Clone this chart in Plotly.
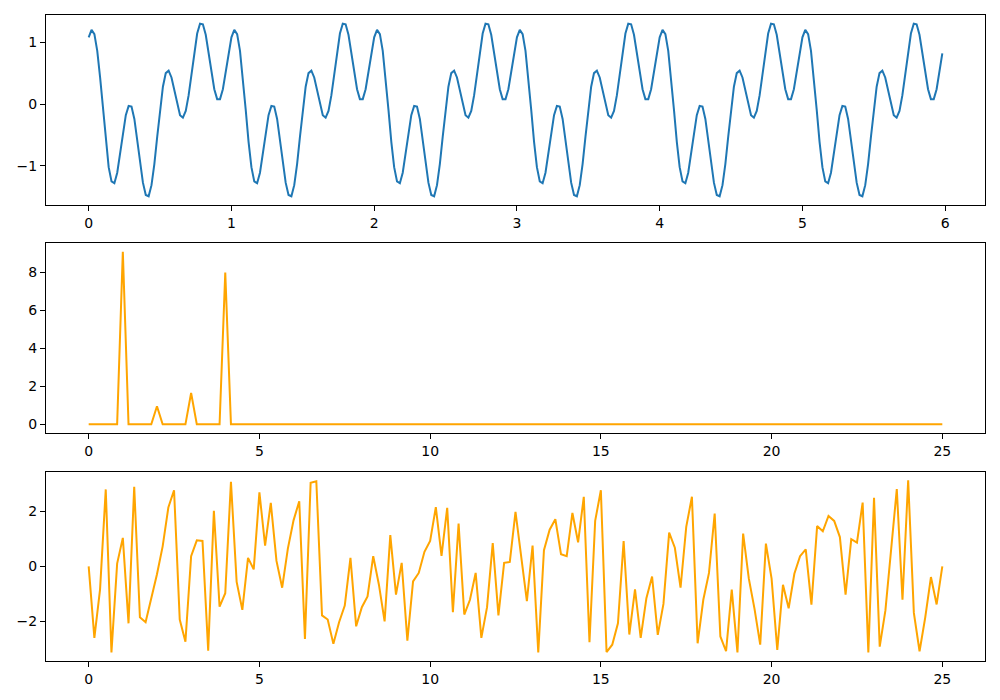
import numpy as np
import plotly.graph_objects as go
from plotly.subplots import make_subplots

# sample times (50 Hz, 6 s) and rfft frequency bins
time = np.arange(300) * 0.02
freqs = np.arange(151) / 6.0

# time-domain signal
signal = [
    1.08, 1.20, 1.13, 0.86, 0.43, -0.09, -0.61, -1.02, -1.25, -1.28,
    -1.11, -0.82, -0.47, -0.18, -0.03, -0.04, -0.24, -0.56, -0.94, -1.27,
    -1.47, -1.49, -1.31, -0.97, -0.53, -0.08, 0.28, 0.50, 0.54, 0.43,
    0.22, -0.01, -0.18, -0.22, -0.11, 0.14, 0.48, 0.84, 1.14, 1.30,
    1.29, 1.12, 0.83, 0.51, 0.24, 0.08, 0.08, 0.24, 0.51, 0.82,
    1.08, 1.20, 1.13, 0.86, 0.43, -0.09, -0.61, -1.02, -1.25, -1.28,
    -1.11, -0.82, -0.47, -0.18, -0.03, -0.04, -0.24, -0.56, -0.94, -1.27,
    -1.47, -1.49, -1.31, -0.97, -0.53, -0.08, 0.28, 0.50, 0.54, 0.43,
    0.22, -0.01, -0.18, -0.22, -0.11, 0.14, 0.48, 0.84, 1.14, 1.30,
    1.29, 1.12, 0.83, 0.51, 0.24, 0.08, 0.08, 0.24, 0.51, 0.82,
    1.08, 1.20, 1.13, 0.86, 0.43, -0.09, -0.61, -1.02, -1.25, -1.28,
    -1.11, -0.82, -0.47, -0.18, -0.03, -0.04, -0.24, -0.56, -0.94, -1.27,
    -1.47, -1.49, -1.31, -0.97, -0.53, -0.08, 0.28, 0.50, 0.54, 0.43,
    0.22, -0.01, -0.18, -0.22, -0.11, 0.14, 0.48, 0.84, 1.14, 1.30,
    1.29, 1.12, 0.83, 0.51, 0.24, 0.08, 0.08, 0.24, 0.51, 0.82,
    1.08, 1.20, 1.13, 0.86, 0.43, -0.09, -0.61, -1.02, -1.25, -1.28,
    -1.11, -0.82, -0.47, -0.18, -0.03, -0.04, -0.24, -0.56, -0.94, -1.27,
    -1.47, -1.49, -1.31, -0.97, -0.53, -0.08, 0.28, 0.50, 0.54, 0.43,
    0.22, -0.01, -0.18, -0.22, -0.11, 0.14, 0.48, 0.84, 1.14, 1.30,
    1.29, 1.12, 0.83, 0.51, 0.24, 0.08, 0.08, 0.24, 0.51, 0.82,
    1.08, 1.20, 1.13, 0.86, 0.43, -0.09, -0.61, -1.02, -1.25, -1.28,
    -1.11, -0.82, -0.47, -0.18, -0.03, -0.04, -0.24, -0.56, -0.94, -1.27,
    -1.47, -1.49, -1.31, -0.97, -0.53, -0.08, 0.28, 0.50, 0.54, 0.43,
    0.22, -0.01, -0.18, -0.22, -0.11, 0.14, 0.48, 0.84, 1.14, 1.30,
    1.29, 1.12, 0.83, 0.51, 0.24, 0.08, 0.08, 0.24, 0.51, 0.82,
    1.08, 1.20, 1.13, 0.86, 0.43, -0.09, -0.61, -1.02, -1.25, -1.28,
    -1.11, -0.82, -0.47, -0.18, -0.03, -0.04, -0.24, -0.56, -0.94, -1.27,
    -1.47, -1.49, -1.31, -0.97, -0.53, -0.08, 0.28, 0.50, 0.54, 0.43,
    0.22, -0.01, -0.18, -0.22, -0.11, 0.14, 0.48, 0.84, 1.14, 1.30,
    1.29, 1.12, 0.83, 0.51, 0.24, 0.08, 0.08, 0.24, 0.51, 0.82,
]

# spectrum magnitude (middle panel)
magnitude = [
    0, 0, 0, 0, 0, 0, 9.1, 0, 0, 0,
    0, 0, 0.95, 0, 0, 0, 0, 0, 1.65, 0,
    0, 0, 0, 0, 8.0, 0, 0, 0, 0, 0,
    0, 0, 0, 0, 0, 0, 0, 0, 0, 0,
    0, 0, 0, 0, 0, 0, 0, 0, 0, 0,
    0, 0, 0, 0, 0, 0, 0, 0, 0, 0,
    0, 0, 0, 0, 0, 0, 0, 0, 0, 0,
    0, 0, 0, 0, 0, 0, 0, 0, 0, 0,
    0, 0, 0, 0, 0, 0, 0, 0, 0, 0,
    0, 0, 0, 0, 0, 0, 0, 0, 0, 0,
    0, 0, 0, 0, 0, 0, 0, 0, 0, 0,
    0, 0, 0, 0, 0, 0, 0, 0, 0, 0,
    0, 0, 0, 0, 0, 0, 0, 0, 0, 0,
    0, 0, 0, 0, 0, 0, 0, 0, 0, 0,
    0, 0, 0, 0, 0, 0, 0, 0, 0, 0,
    0,
]

# spectrum phase (bottom panel)
phase = [
    0.0, -2.61, -0.84, 2.81, -3.14, 0.10, 1.04, -2.08, 2.91, -1.86,
    -2.04, -1.16, -0.29, 0.73, 2.15, 2.78, -1.94, -2.75, 0.37, 0.95,
    0.93, -3.08, 2.03, -1.47, -0.98, 3.09, -0.57, -1.59, 0.31, -0.11,
    2.70, 0.76, 2.32, 0.20, -0.78, 0.65, 1.68, 2.38, -2.65, 3.05,
    3.11, -1.79, -1.94, -2.83, -2.04, -1.43, 0.31, -2.19, -1.49, -1.10,
    0.37, -0.67, -2.01, 1.14, -1.03, 0.13, -2.71, -0.55, -0.24, 0.53,
    0.93, 2.16, 0.38, 2.14, -1.67, 1.56, -1.76, -1.22, -0.24, -2.61,
    -1.49, 0.85, -1.79, 0.13, 0.16, 1.99, 0.32, -1.27, 0.76, -3.14,
    0.59, 1.34, 1.72, 0.44, 0.37, 1.95, 0.88, 2.54, -2.77, 1.66,
    2.78, -3.13, -2.86, -2.08, 0.92, -2.49, -0.84, -2.61, -1.16, -0.37,
    -2.50, -1.37, 1.23, 0.68, -0.78, 1.44, 2.54, -2.81, -1.22, -0.24,
    1.93, -2.56, -3.10, -0.85, -3.14, 1.20, -0.45, -1.55, -2.86, 0.83,
    -0.45, -3.05, -0.67, -1.53, -0.27, 0.37, 0.62, -1.40, 1.47, 1.28,
    1.84, 1.66, 1.07, -1.03, 0.99, 0.87, 2.33, -3.14, 2.50, -2.93,
    -1.61, 0.65, 2.82, -1.22, 3.14, -1.70, -3.10, -1.86, -0.39, -1.39,
    0.0,
]

fig = make_subplots(rows=3, cols=1, vertical_spacing=0.06)

fig.add_trace(go.Scatter(x=time, y=signal, mode="lines",
                         line=dict(color="#1f77b4", width=2)), row=1, col=1)
fig.add_trace(go.Scatter(x=freqs, y=magnitude, mode="lines",
                         line=dict(color="orange", width=2)), row=2, col=1)
fig.add_trace(go.Scatter(x=freqs, y=phase, mode="lines",
                         line=dict(color="orange", width=2)), row=3, col=1)

axis_style = dict(showline=True, linecolor="black", linewidth=1, mirror=True,
                  ticks="outside", ticklen=5, tickwidth=1, tickcolor="black",
                  showgrid=False, zeroline=False, automargin=False,
                  tickfont=dict(family="DejaVu Sans", size=14, color="black"))

fig.update_xaxes(**axis_style)
fig.update_yaxes(**axis_style)

# page body adds an 8px offset, so margins are shifted to compensate
fig.update_layout(
    width=1000, height=700,
    showlegend=False,
    plot_bgcolor="white", paper_bgcolor="white",
    margin=dict(l=38, r=23, t=7, b=47),
    xaxis=dict(domain=[0, 1], range=[-0.299, 6.279], dtick=1, tick0=0),
    yaxis=dict(domain=[0.706, 1.0], range=[-1.63, 1.44], dtick=1, tick0=0),
    xaxis2=dict(domain=[0, 1], range=[-1.25, 26.25], dtick=5, tick0=0),
    yaxis2=dict(domain=[0.353, 0.647], range=[-0.455, 9.555], dtick=2, tick0=0),
    xaxis3=dict(domain=[0, 1], range=[-1.25, 26.25], dtick=5, tick0=0),
    yaxis3=dict(domain=[0.0, 0.293], range=[-3.456, 3.456], dtick=2, tick0=0),
)

fig.write_html("out.html")
